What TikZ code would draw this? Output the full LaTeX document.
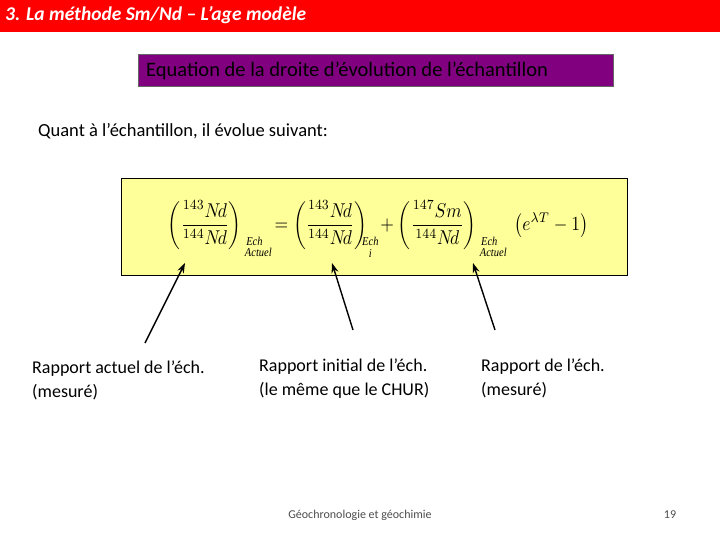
\documentclass[tikz,border=0pt]{standalone}
\usetikzlibrary{arrows.meta}
\usepackage{amsmath}
\usepackage{graphicx}
\usepackage{fontspec}
\setmainfont{Carlito}
\newfontfamily\serifit{Liberation Serif}
\newcommand{\sbx}[1]{\text{\serifit\itshape\fontsize{6}{6}\selectfont #1}}
\begin{document}
\begin{tikzpicture}[x=1pt,y=-1pt,
  lbl/.style={anchor=north west,align=left,font=\fontsize{18}{24}\selectfont},
  arr/.style={-{Stealth[length=10pt,width=7pt]},line width=1.4pt}]
\useasboundingbox (0,0) rectangle (720,540);
\fill[red] (0,0) rectangle (720,32);
\node[anchor=west,text=white,font=\fontsize{19.5}{22}\selectfont\bfseries\itshape,inner sep=0] (title) at (5,15) {3. La méthode Sm/Nd – L’age modèle};
\node[draw=black!60,fill={rgb,255:red,128;green,0;blue,128},minimum width=475,minimum height=32,anchor=north west,inner sep=0] (sub) at (138,54) {};
\node[anchor=west,font=\fontsize{20.5}{22}\selectfont,inner sep=0] at (146,71) {Equation de la droite d’évolution de l’échantillon};
\node[anchor=west,font=\fontsize{18.5}{22}\selectfont,inner sep=0] (q) at (38,131) {Quant à l’échantillon, il évolue suivant:};
\node[draw=black,fill={rgb,255:red,255;green,255;blue,153},minimum width=506,minimum height=97,anchor=north west,inner sep=0] (box) at (121,178) {};
\node (eq) at (378,229) {\scalebox{1.75}[2.0]{$\displaystyle
\left(\frac{{}^{143}N\!d}{{}^{144}N\!d}\right)_{\!\!\substack{\sbx{Ech}\\\sbx{\ \ \ Actuel}}}
\!=\left(\frac{{}^{143}N\!d}{{}^{144}N\!d}\right)_{\!\!\substack{\sbx{Ech}\\ \sbx{i}}}
\!+\left(\frac{{}^{147}Sm}{{}^{144}N\!d}\right)_{\!\!\substack{\sbx{Ech}\\\sbx{\ \ \ Actuel}}}
\ \left(e^{\lambda T}-1\right)$}};
\coordinate (t1) at (185,263); \coordinate (t2) at (332,263); \coordinate (t3) at (473,263);
\coordinate (s1) at (145,343); \coordinate (s2) at (353,330); \coordinate (s3) at (495,330);
\draw[arr] (s1) -- (t1);
\draw[arr] (s2) -- (t2);
\draw[arr] (s3) -- (t3);
\node[lbl,inner sep=0] (l1) at (32,361) {Rapport actuel de l’éch.\\(mesuré)};
\node[lbl,inner sep=0] (l2) at (259,359) {Rapport initial de l’éch.\\(le même que le CHUR)};
\node[lbl,inner sep=0] (l3) at (481,359) {Rapport de l’éch.\\(mesuré)};
\node[font=\fontsize{12}{14}\selectfont,text=black!70] (foot) at (360,515) {Géochronologie et géochimie};
\node[font=\fontsize{12}{14}\selectfont,text=black!70] (num) at (670,515) {19};
\end{tikzpicture}
\end{document}
